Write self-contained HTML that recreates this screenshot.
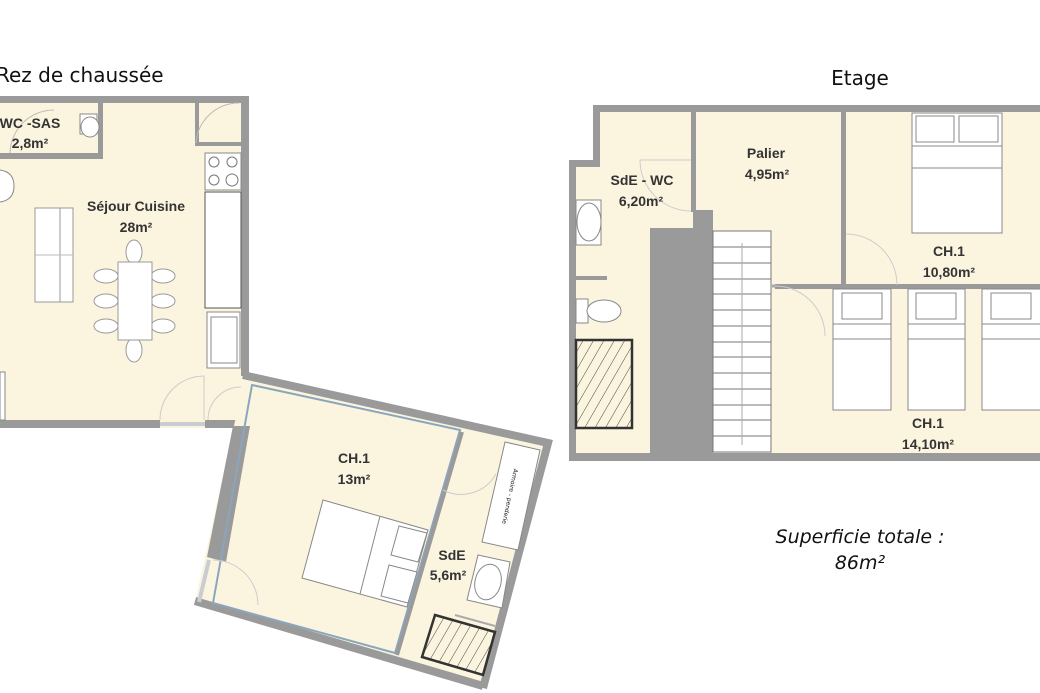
<!DOCTYPE html>
<html><head><meta charset="utf-8"><style>
html,body{margin:0;padding:0;background:#fff;}
svg{display:block}
text{font-family:"DejaVu Sans","Liberation Sans",sans-serif;fill:#111}
.lab{font-family:"Liberation Sans",sans-serif;font-weight:bold;font-size:14px;fill:#333;text-anchor:middle}
</style></head><body>
<svg width="1040" height="693" viewBox="0 0 1040 693" xmlns="http://www.w3.org/2000/svg">
<defs>
<pattern id="hatch" width="9" height="9" patternUnits="userSpaceOnUse" patternTransform="rotate(30)">
<line x1="0" y1="0" x2="0" y2="9" stroke="#444" stroke-width="1"/>
</pattern>
</defs>
<!-- Titles -->
<text x="-4" y="82" font-size="20">Rez de chaussée</text>
<text x="860" y="85" font-size="20" text-anchor="middle">Etage</text>
<text x="860" y="543" font-size="19" font-style="italic" text-anchor="middle">Superficie totale :</text>
<text x="860" y="569" font-size="19" font-style="italic" text-anchor="middle">86m²</text>

<!-- ================= LEFT PLAN ================= -->
<rect x="0" y="96" width="249" height="332" fill="#fbf5df"/>
<!-- walls -->
<rect x="0" y="96" width="249" height="7" fill="#9a9a9a"/>
<rect x="241" y="96" width="8" height="280" fill="#9a9a9a"/>
<rect x="0" y="420" width="160" height="8" fill="#9a9a9a"/>
<rect x="160" y="422" width="45" height="4" fill="#c9ccd0"/>
<rect x="205" y="420" width="40" height="8" fill="#9a9a9a"/>
<rect x="0" y="153" width="103" height="6" fill="#9a9a9a"/>
<rect x="98" y="103" width="5" height="56" fill="#9a9a9a"/>
<rect x="195" y="103" width="4" height="43" fill="#9a9a9a"/>
<rect x="195" y="142" width="46" height="4" fill="#9a9a9a"/>
<!-- doors arcs -->
<path d="M196 143 A43 43 0 0 1 239 103" fill="none" stroke="#bbb" stroke-width="1"/>
<path d="M10 153 A44 44 0 0 1 54 110" fill="none" stroke="#bbb"/>
<path d="M160 420 A44 44 0 0 1 204 376 V420" fill="none" stroke="#ccc"/>
<path d="M208 420 A33 33 0 0 1 241 387" fill="none" stroke="#ccc"/>
<!-- WC sink -->
<rect x="80" y="114" width="17" height="20" fill="#fff" stroke="#888"/>
<ellipse cx="90" cy="127" rx="9" ry="10" fill="#fff" stroke="#888"/>
<text class="lab" x="30" y="128">WC -SAS</text>
<text class="lab" x="30" y="148">2,8m²</text>
<!-- chair left -->
<path d="M0 170 Q14 172 14 186 Q14 200 0 202" fill="#fff" stroke="#888"/>
<!-- sofa -->
<rect x="35" y="208" width="38" height="94" fill="#fff" stroke="#999"/>
<line x1="60" y1="208" x2="60" y2="302" stroke="#999"/>
<line x1="35" y1="255" x2="73" y2="255" stroke="#bbb"/>
<!-- table & chairs -->
<g fill="#fff" stroke="#999">
<ellipse cx="134" cy="252" rx="8" ry="12"/>
<ellipse cx="134" cy="350" rx="8" ry="12"/>
<ellipse cx="106" cy="276" rx="12" ry="7"/><ellipse cx="106" cy="301" rx="12" ry="7"/><ellipse cx="106" cy="326" rx="12" ry="7"/>
<ellipse cx="163" cy="276" rx="12" ry="7"/><ellipse cx="163" cy="301" rx="12" ry="7"/><ellipse cx="163" cy="326" rx="12" ry="7"/>
<rect x="118" y="262" width="34" height="78"/>
</g>
<text class="lab" x="136" y="211">Séjour Cuisine</text>
<text class="lab" x="136" y="232">28m²</text>
<!-- kitchen -->
<rect x="205" y="153" width="36" height="37" fill="#fff" stroke="#888"/>
<g fill="#fff" stroke="#777"><circle cx="214" cy="162" r="5"/><circle cx="232" cy="162" r="5"/><circle cx="214" cy="180" r="5"/><circle cx="232" cy="180" r="6"/></g>
<rect x="205" y="192" width="36" height="116" fill="#fff" stroke="#555"/>
<rect x="207" y="312" width="33" height="56" fill="#fff" stroke="#888"/>
<rect x="211" y="317" width="26" height="46" fill="#fff" stroke="#888"/>
<rect x="0" y="372" width="5" height="48" fill="#fff" stroke="#888"/>

<!-- ================= ROTATED WING ================= -->
<polygon points="245,376 548,442 483,686 195,602" fill="#fbf5df"/>
<!-- outer walls -->
<polyline points="243,375 548,443 483,688" fill="none" stroke="#9a9a9a" stroke-width="8"/>
<line x1="195" y1="601" x2="483" y2="686" stroke="#9a9a9a" stroke-width="8"/>
<polygon points="233,426 250,426 226,562 207,557" fill="#9a9a9a"/>
<line x1="209" y1="560" x2="199" y2="602" stroke="#c9ccd0" stroke-width="4"/>
<!-- inner blue room -->
<polygon points="252,385 460,430 395,653 213,603" fill="none" stroke="#8aa6bf" stroke-width="2"/>
<line x1="462" y1="432" x2="397" y2="655" stroke="#9a9a9a" stroke-width="4"/>
<!-- door arcs -->
<path d="M213 560 A45 45 0 0 1 258 605" fill="none" stroke="#ccc"/>
<path d="M443 490 A40 40 0 0 0 496 474" fill="none" stroke="#ccc"/>
<!-- bed -->
<polygon points="323,500 428,530 407,607 302,578" fill="#fff" stroke="#888"/>
<line x1="380" y1="516" x2="360" y2="594" stroke="#888"/>
<polygon points="399,526 427,533 418,562 391,555" fill="#fff" stroke="#888"/>
<polygon points="389,565 417,572 408,603 381,596" fill="#fff" stroke="#888"/>
<text class="lab" x="354" y="463">CH.1</text>
<text class="lab" x="354" y="484">13m²</text>
<!-- wardrobe -->
<polygon points="505,442 540,450 518,550 482,542" fill="#fff" stroke="#888"/>
<text x="0" y="0" font-size="6" fill="#666" transform="translate(508,496) rotate(102)" text-anchor="middle">Armoire - penderie</text>
<!-- sink -->
<polygon points="478,555 510,562 502,608 467,600" fill="#fff" stroke="#888"/>
<ellipse cx="488" cy="582" rx="13" ry="18" transform="rotate(14 488 582)" fill="#fff" stroke="#888"/>
<text class="lab" x="452" y="560">SdE</text>
<text class="lab" x="448" y="580">5,6m²</text>
<!-- shower -->
<polygon points="435,615 495,632 483,675 422,657" fill="url(#hatch)" stroke="#333" stroke-width="2.5"/>
<line x1="455" y1="615" x2="495" y2="626" stroke="#aaa" stroke-width="2"/>

<!-- ================= RIGHT PLAN ================= -->
<polygon points="596,108 1040,108 1040,457 572,457 572,164 596,164" fill="#fbf5df"/>
<rect x="593" y="105" width="447" height="7" fill="#9a9a9a"/>
<rect x="593" y="105" width="7" height="62" fill="#9a9a9a"/>
<rect x="569" y="160" width="31" height="7" fill="#9a9a9a"/>
<rect x="569" y="160" width="7" height="301" fill="#9a9a9a"/>
<rect x="569" y="453" width="471" height="8" fill="#9a9a9a"/>
<rect x="691" y="112" width="5" height="100" fill="#9a9a9a"/>
<polygon points="650,228 693,228 693,210 713,210 713,453 650,453" fill="#9a9a9a"/>
<rect x="841" y="112" width="5" height="173" fill="#9a9a9a"/>
<rect x="775" y="284" width="265" height="5" fill="#9a9a9a"/>
<line x1="772" y1="286" x2="775" y2="286" stroke="#aaa" stroke-width="3"/>
<rect x="576" y="276" width="31" height="4" fill="#9a9a9a"/>
<!-- door arcs -->
<path d="M640 160 H691 M640 160 A51 51 0 0 0 691 211" fill="none" stroke="#ccc"/>
<path d="M846 234 A51 51 0 0 1 897 285" fill="none" stroke="#ccc"/>
<path d="M775 286 A50 50 0 0 1 825 336" fill="none" stroke="#ccc"/>
<!-- stairs -->
<rect x="713" y="231" width="58" height="221" fill="#fff" stroke="#777"/>
<g stroke="#777">
<line x1="713" y1="247" x2="771" y2="247"/><line x1="713" y1="263" x2="771" y2="263"/><line x1="713" y1="279" x2="771" y2="279"/>
<line x1="713" y1="294" x2="771" y2="294"/><line x1="713" y1="310" x2="771" y2="310"/><line x1="713" y1="326" x2="771" y2="326"/>
<line x1="713" y1="342" x2="771" y2="342"/><line x1="713" y1="357" x2="771" y2="357"/><line x1="713" y1="373" x2="771" y2="373"/>
<line x1="713" y1="389" x2="771" y2="389"/><line x1="713" y1="405" x2="771" y2="405"/><line x1="713" y1="420" x2="771" y2="420"/>
<line x1="713" y1="436" x2="771" y2="436"/>
</g>
<line x1="742" y1="243" x2="742" y2="445" stroke="#aaa"/>
<!-- SdE-WC fixtures -->
<rect x="576" y="200" width="25" height="45" fill="#fff" stroke="#888"/>
<ellipse cx="589" cy="222" rx="12" ry="19" fill="#fff" stroke="#888"/>
<rect x="576" y="299" width="12" height="24" fill="#fff" stroke="#888"/>
<ellipse cx="604" cy="311" rx="17" ry="11" fill="#fff" stroke="#888"/>
<rect x="576" y="340" width="56" height="88" fill="url(#hatch)" stroke="#333" stroke-width="2.5"/>
<text class="lab" x="642" y="185">SdE - WC</text>
<text class="lab" x="641" y="206">6,20m²</text>
<text class="lab" x="766" y="158">Palier</text>
<text class="lab" x="767" y="179">4,95m²</text>
<!-- double bed -->
<rect x="912" y="113" width="90" height="120" fill="#fff" stroke="#888"/>
<rect x="916" y="116" width="38" height="26" fill="#fff" stroke="#888"/>
<rect x="959" y="116" width="39" height="26" fill="#fff" stroke="#888"/>
<line x1="912" y1="146" x2="1002" y2="146" stroke="#888"/>
<line x1="912" y1="168" x2="1002" y2="168" stroke="#888"/>
<text class="lab" x="949" y="256">CH.1</text>
<text class="lab" x="949" y="277">10,80m²</text>
<!-- single beds -->
<g fill="#fff" stroke="#888">
<rect x="833" y="289" width="58" height="121"/><rect x="842" y="293" width="40" height="26"/><line x1="833" y1="324" x2="891" y2="324"/><line x1="833" y1="339" x2="891" y2="339"/>
<rect x="908" y="289" width="57" height="121"/><rect x="916" y="293" width="40" height="26"/><line x1="908" y1="324" x2="965" y2="324"/><line x1="908" y1="339" x2="965" y2="339"/>
<rect x="982" y="289" width="60" height="121"/><rect x="991" y="293" width="40" height="26"/><line x1="982" y1="324" x2="1042" y2="324"/><line x1="982" y1="339" x2="1042" y2="339"/>
</g>
<text class="lab" x="928" y="428">CH.1</text>
<text class="lab" x="928" y="449">14,10m²</text>
</svg>
</body></html>
